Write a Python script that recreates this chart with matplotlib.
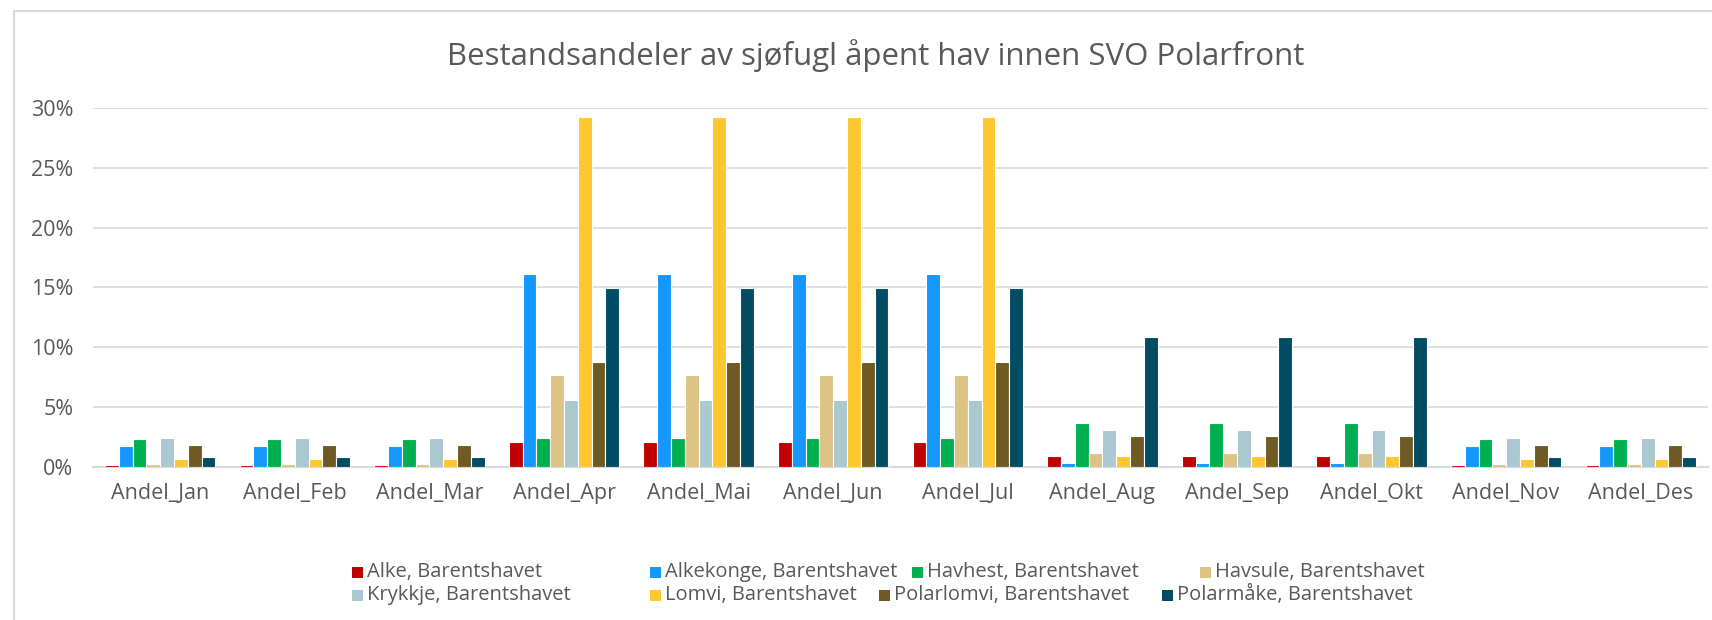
import matplotlib
matplotlib.use("Agg")
import matplotlib.pyplot as plt
from matplotlib.patches import Rectangle
from matplotlib.ticker import FuncFormatter, MultipleLocator

# Monthly shares (%) of each seabird population in open sea within SVO Polarfront
months = ["Andel_Jan", "Andel_Feb", "Andel_Mar", "Andel_Apr", "Andel_Mai", "Andel_Jun",
          "Andel_Jul", "Andel_Aug", "Andel_Sep", "Andel_Okt", "Andel_Nov", "Andel_Des"]

alke = [0.15, 0.15, 0.15, 2.04, 2.04, 2.04, 2.04, 0.92, 0.92, 0.92, 0.15, 0.15]
alkekonge = [1.70, 1.70, 1.70, 16.09, 16.09, 16.09, 16.09, 0.31, 0.31, 0.31, 1.70, 1.70]
havhest = [2.32, 2.32, 2.32, 2.43, 2.43, 2.43, 2.43, 3.63, 3.63, 3.63, 2.32, 2.32]
havsule = [0.22, 0.22, 0.22, 7.65, 7.65, 7.65, 7.65, 1.12, 1.12, 1.12, 0.22, 0.22]
krykkje = [2.43, 2.43, 2.43, 5.56, 5.56, 5.56, 5.56, 3.10, 3.10, 3.10, 2.43, 2.43]
lomvi = [0.64, 0.64, 0.64, 29.30, 29.30, 29.30, 29.30, 0.92, 0.92, 0.92, 0.64, 0.64]
polarlomvi = [1.81, 1.81, 1.81, 8.80, 8.80, 8.80, 8.80, 2.57, 2.57, 2.57, 1.81, 1.81]
polarmake = [0.78, 0.78, 0.78, 14.94, 14.94, 14.94, 14.94, 10.85, 10.85, 10.85, 0.78, 0.78]

series_names = ["Alke, Barentshavet", "Alkekonge, Barentshavet", "Havhest, Barentshavet",
                "Havsule, Barentshavet", "Krykkje, Barentshavet", "Lomvi, Barentshavet",
                "Polarlomvi, Barentshavet", "Polarmåke, Barentshavet"]
series_values = [alke, alkekonge, havhest, havsule, krykkje, lomvi, polarlomvi, polarmake]
series_colors = ["#C00000", "#1497FF", "#00B050", "#DCC487",
                 "#A9C8CF", "#FFC72F", "#6F5A23", "#004D63"]

title = "Bestandsandeler av sjøfugl åpent hav innen SVO Polarfront"

TEXT = "#595959"
GRID = "#D9D9D9"
FONT = "Open Sans"

W, H = 1712, 620
fig = plt.figure(figsize=(W / 100, H / 100), dpi=100)
fig.patch.set_facecolor("white")

# chart-area frame
fig.patches.append(Rectangle((14 / W, -0.1), 1.2, (H - 11) / H + 0.1,
                             transform=fig.transFigure, fill=False,
                             edgecolor=GRID, linewidth=1.5))

ax = fig.add_axes([93 / W, (H - 466.7) / H, 1615 / W, (466.7 - 108.3) / H])

bar_w = 0.1025
n = len(series_values)
xs = list(range(len(months)))
for i, (vals, col, name) in enumerate(zip(series_values, series_colors, series_names)):
    offs = (i - (n - 1) / 2) * bar_w
    ax.bar([x + offs for x in xs], [v / 100 for v in vals], width=bar_w,
           color=col, edgecolor="white", linewidth=0.8, label=name, zorder=3)

ax.set_xlim(-0.5, len(months) - 0.5)
ax.set_ylim(0, 0.30)
ax.yaxis.set_major_locator(MultipleLocator(0.05))
ax.yaxis.set_major_formatter(FuncFormatter(lambda v, p: f"{v * 100:.0f}%"))
ax.set_xticks(xs)
ax.set_xticklabels(months)
ax.grid(axis="y", color=GRID, linewidth=1.2, zorder=0)
ax.set_axisbelow(True)
for s in ["top", "right", "left"]:
    ax.spines[s].set_visible(False)
ax.spines["bottom"].set_color(GRID)
ax.spines["bottom"].set_linewidth(1.5)
ax.tick_params(axis="both", length=0, colors=TEXT, labelsize=15.5)
ax.tick_params(axis="x", pad=12)
ax.tick_params(axis="y", pad=14)
for lab in ax.get_xticklabels() + ax.get_yticklabels():
    lab.set_fontfamily(FONT)
    lab.set_color(TEXT)

fig.text(876 / W, 1 - 56 / H, title, ha="center", va="center",
         fontsize=22.5, color=TEXT, family=FONT)

# legend entries laid out in two rows below the plot
entry_x = [352, 650, 912, 1200, 352, 650, 879, 1162]
row_y = [572, 595]
sq = 11
for k, (name, col) in enumerate(zip(series_names, series_colors)):
    x0 = entry_x[k]
    cy = row_y[k // 4]
    fig.patches.append(Rectangle((x0 / W, 1 - (cy + sq / 2) / H), sq / W, sq / H,
                                 transform=fig.transFigure, facecolor=col,
                                 edgecolor="none"))
    fig.text((x0 + sq + 4) / W, 1 - cy / H, name, ha="left", va="center",
             fontsize=14.5, color=TEXT, family=FONT)

fig.savefig("out.png", dpi=100)
